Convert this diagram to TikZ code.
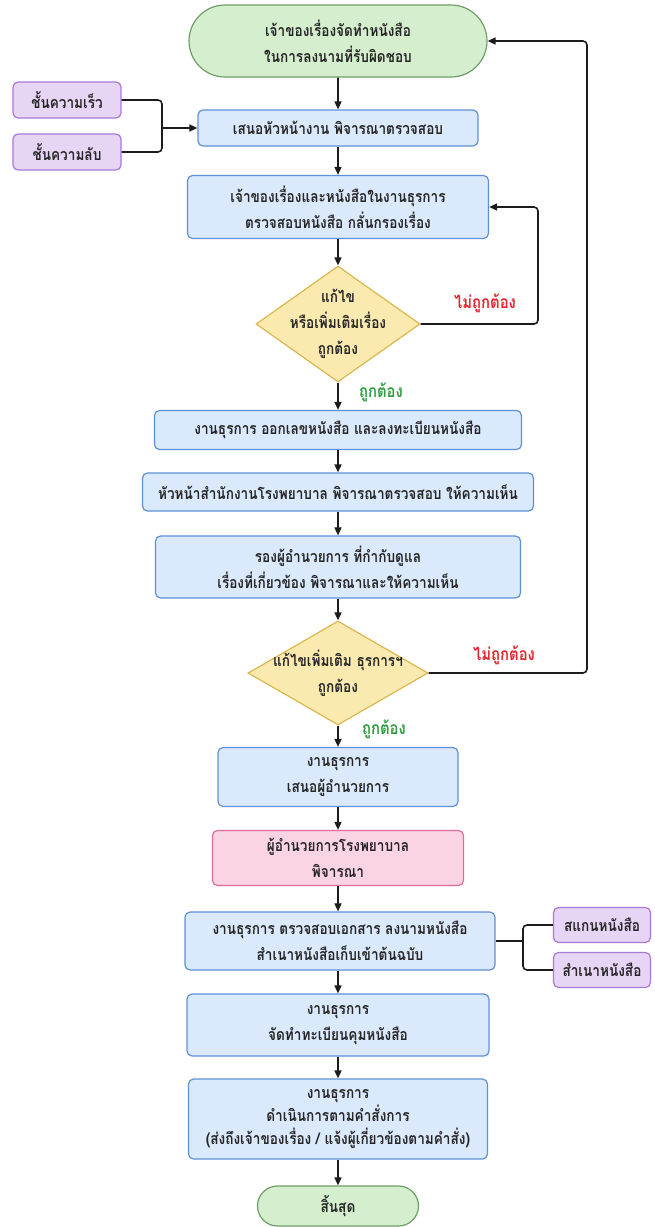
\documentclass[tikz,border=0pt]{standalone}
\usepackage{fontspec}
\newfontfamily\thaifont[Script=Thai,FakeStretch=0.85]{Loma}
\usetikzlibrary{shapes.geometric,shapes.misc,arrows.meta}
\definecolor{startfill}{HTML}{D5EFCE}
\definecolor{startline}{HTML}{6E9E66}
\definecolor{boxfill}{HTML}{DAE9FB}
\definecolor{boxline}{HTML}{5F90D8}
\definecolor{askfill}{HTML}{FBEAB0}
\definecolor{askline}{HTML}{DCB64E}
\definecolor{tagfill}{HTML}{E7D5F6}
\definecolor{tagline}{HTML}{A67BD6}
\definecolor{bossfill}{HTML}{FBD4E3}
\definecolor{bossline}{HTML}{E06A9B}
\definecolor{notok}{HTML}{E3262E}
\definecolor{isok}{HTML}{2F9D43}
\definecolor{wire}{HTML}{1C1C1C}
\begin{document}
\begin{tikzpicture}[x=1pt,y=-1pt,
	base/.style={line width=1.2pt, align=center, inner sep=0pt, text=black!85, font=\thaifont\bfseries\fontsize{16}{26}\selectfont},
	box/.style={base, draw=boxline, fill=boxfill, rounded corners=5pt},
	boss/.style={box, draw=bossline, fill=bossfill},
	tag/.style={box, draw=tagline, fill=tagfill},
	term/.style={base, rounded rectangle, draw=startline, fill=startfill},
	ask/.style={base, diamond, draw=askline, fill=askfill, inner sep=-30pt},
	flow/.style={line width=1.6pt, draw=wire, rounded corners=4pt, -{Triangle[length=8pt,width=7pt]}},
	wireline/.style={line width=1.6pt, draw=wire, rounded corners=4pt},
	yes/.style={text=isok, font=\thaifont\bfseries\fontsize{17.5}{18}\selectfont},
	no/.style={text=notok, font=\thaifont\bfseries\fontsize{17.5}{18}\selectfont}]
	\useasboundingbox (0,0) rectangle (655,1227);
	\node[term, minimum width=298pt, minimum height=72pt] (start) at (338,41) {เจ้าของเรื่องจัดทำหนังสือ\\ในการลงนามที่รับผิดชอบ};
	\node[tag, minimum width=108pt, minimum height=36pt] (fast) at (67,100) {ชั้นความเร็ว};
	\node[tag, minimum width=108pt, minimum height=36pt] (secret) at (67,152) {ชั้นความลับ};
	\node[box, minimum width=280pt, minimum height=36pt] (propose) at (338,128) {เสนอหัวหน้างาน พิจารณาตรวจสอบ};
	\node[box, minimum width=301pt, minimum height=63pt] (check) at (338,207) {เจ้าของเรื่องและหนังสือในงานธุรการ\\ตรวจสอบหนังสือ กลั่นกรองเรื่อง};
	\node[ask, minimum width=164pt, minimum height=116pt] (ask1) at (338,324) {แก้ไข\\หรือเพิ่มเติมเรื่อง\\ถูกต้อง};
	\node[box, minimum width=367pt, minimum height=39pt] (number) at (338,430) {งานธุรการ ออกเลขหนังสือ และลงทะเบียนหนังสือ};
	\node[box, minimum width=391pt, minimum height=38pt] (office) at (338,492) {หัวหน้าสำนักงานโรงพยาบาล พิจารณาตรวจสอบ ให้ความเห็น};
	\node[box, minimum width=365pt, minimum height=62pt] (deputy) at (338,567) {รองผู้อำนวยการ ที่กำกับดูแล\\เรื่องที่เกี่ยวข้อง พิจารณาและให้ความเห็น};
	\node[ask, minimum width=180pt, minimum height=104pt] (ask2) at (338,673) {แก้ไขเพิ่มเติม ธุรการฯ\\ถูกต้อง};
	\node[box, minimum width=240pt, minimum height=59pt] (present) at (338,777) {งานธุรการ\\เสนอผู้อำนวยการ};
	\node[boss, minimum width=251pt, minimum height=55pt] (director) at (338,858) {ผู้อำนวยการโรงพยาบาล\\พิจารณา};
	\node[box, minimum width=310pt, minimum height=58pt] (sign) at (340,941) {งานธุรการ ตรวจสอบเอกสาร ลงนามหนังสือ\\สำเนาหนังสือเก็บเข้าต้นฉบับ};
	\node[tag, minimum width=97pt, minimum height=35pt] (scan) at (602,925) {สแกนหนังสือ};
	\node[tag, minimum width=97pt, minimum height=35pt] (copy) at (602,970) {สำเนาหนังสือ};
	\node[box, minimum width=302pt, minimum height=62pt] (register) at (338,1025) {งานธุรการ\\จัดทำทะเบียนคุมหนังสือ};
	\node[box, minimum width=299pt, minimum height=80pt, font=\thaifont\bfseries\fontsize{16}{23}\selectfont] (act) at (338,1119) {งานธุรการ\\ดำเนินการตามคำสั่งการ\\(ส่งถึงเจ้าของเรื่อง / แจ้งผู้เกี่ยวข้องตามคำสั่ง)};
	\node[term, minimum width=161pt, minimum height=40pt] (stop) at (338,1206) {สิ้นสุด};
	\coordinate (join1) at (162,128);
	\coordinate (back1) at (538,207);
	\coordinate (back2) at (587,41);
	\coordinate (join2) at (523,941);
	\draw[flow] (start) -- (propose);
	\draw[wireline] (fast.east) -| (join1);
	\draw[wireline] (secret.east) -| (join1);
	\draw[flow] (join1) -- (propose.west);
	\draw[flow] (propose) -- (check);
	\draw[flow] (check) -- (ask1);
	\draw[flow] (ask1.east) -| (back1) -- (check.east);
	\node[no] (no1) at (485,303) {ไม่ถูกต้อง};
	\node[yes] (yes1) at (381,392) {ถูกต้อง};
	\draw[flow] (ask1) -- (number);
	\draw[flow] (number) -- (office);
	\draw[flow] (office) -- (deputy);
	\draw[flow] (deputy) -- (ask2);
	\draw[flow] (ask2.east) -| (back2) -- (start.east);
	\node[no] (no2) at (504,655) {ไม่ถูกต้อง};
	\node[yes] (yes2) at (384,729) {ถูกต้อง};
	\draw[flow] (ask2) -- (present);
	\draw[flow] (present) -- (director);
	\draw[flow] (director) -- (director |- sign.north);
	\draw[wireline] (sign.east) -- (join2);
	\draw[wireline] (join2) |- (scan.west);
	\draw[wireline] (join2) |- (copy.west);
	\draw[flow] (register |- sign.south) -- (register);
	\draw[flow] (register) -- (act);
	\draw[flow] (act) -- (stop);
\end{tikzpicture}
\end{document}
